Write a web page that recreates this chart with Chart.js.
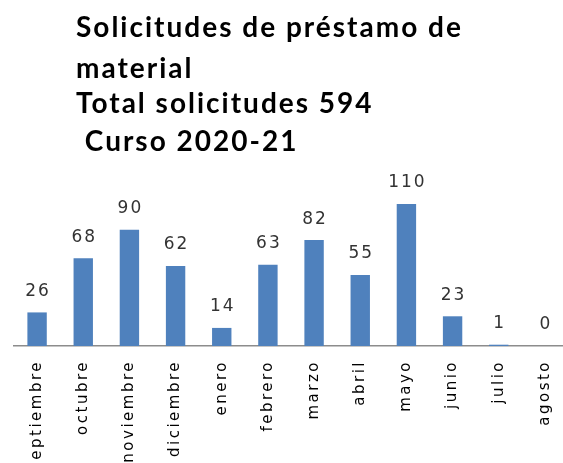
<!DOCTYPE html>
<html>
<head>
<meta charset="utf-8">
<script src="https://cdn.jsdelivr.net/npm/chart.js@4/dist/chart.umd.min.js"></script>
<style>
  html, body { margin: 0; padding: 0; background: #fff; overflow: hidden; }
  #wrap { width: 580px; height: 463px; }
</style>
</head>
<body>
<div id="wrap"><canvas id="grafico" width="580" height="463"></canvas></div>
<script>
const meses = ['septiembre', 'octubre', 'noviembre', 'diciembre', 'enero', 'febrero',
  'marzo', 'abril', 'mayo', 'junio', 'julio', 'agosto'];
const solicitudes = [26, 68, 90, 62, 14, 63, 82, 55, 110, 23, 1, 0];
const lineasTitulo = ['Solicitudes de préstamo de', 'material', 'Total solicitudes 594', ' Curso 2020-21'];

// titulo en varias lineas alineado a la izquierda
const tituloPlugin = {
  id: 'titulo',
  afterDraw(chart) {
    const ctx = chart.ctx;
    const ys = [37, 78, 113, 151];
    ctx.save();
    ctx.letterSpacing = '2px';
    ctx.font = 'bold 28px Lato';
    ctx.fillStyle = '#000';
    ctx.textBaseline = 'alphabetic';
    ctx.textAlign = 'left';
    lineasTitulo.forEach((t, i) => ctx.fillText(t, 76, ys[i]));
    ctx.restore();
  }
};

// valores encima de cada barra
const valoresPlugin = {
  id: 'valores',
  afterDatasetsDraw(chart) {
    const ctx = chart.ctx;
    const meta = chart.getDatasetMeta(0);
    ctx.save();
    ctx.letterSpacing = '2px';
    ctx.font = '17px "DejaVu Sans"';
    ctx.fillStyle = '#333';
    ctx.textAlign = 'center';
    ctx.textBaseline = 'middle';
    meta.data.forEach((bar, i) => {
      ctx.fillText(String(solicitudes[i]), bar.x + 1, bar.y - 21);
    });
    ctx.restore();
  }
};

const espaciado = {
  id: 'espaciado',
  beforeUpdate(chart) { chart.ctx.letterSpacing = '2.5px'; },
  beforeDraw(chart) { chart.ctx.letterSpacing = '2.5px'; }
};

new Chart(document.getElementById('grafico'), {
  type: 'bar',
  data: {
    labels: meses,
    datasets: [{
      label: 'Solicitudes',
      data: solicitudes,
      backgroundColor: '#4F81BD',
      barPercentage: 0.42,
      categoryPercentage: 1
    }]
  },
  options: {
    responsive: false,
    animation: false,
    layout: { padding: { top: 191, left: 14, right: 12, bottom: 0 } },
    plugins: {
      legend: { display: false },
      tooltip: { enabled: false },
      title: { display: false }
    },
    scales: {
      x: {
        grid: { display: false, drawTicks: false },
        border: { display: true, color: '#8c8c8c', width: 1.5 },
        ticks: {
          minRotation: 90,
          maxRotation: 90,
          padding: 14,
          color: '#000',
          font: { family: 'DejaVu Sans', size: 15 }
        },
        afterFit(scale) { scale.height = 117; }
      },
      y: {
        display: false,
        min: 0,
        max: 120
      }
    }
  },
  plugins: [espaciado, tituloPlugin, valoresPlugin]
});
</script>
</body>
</html>
